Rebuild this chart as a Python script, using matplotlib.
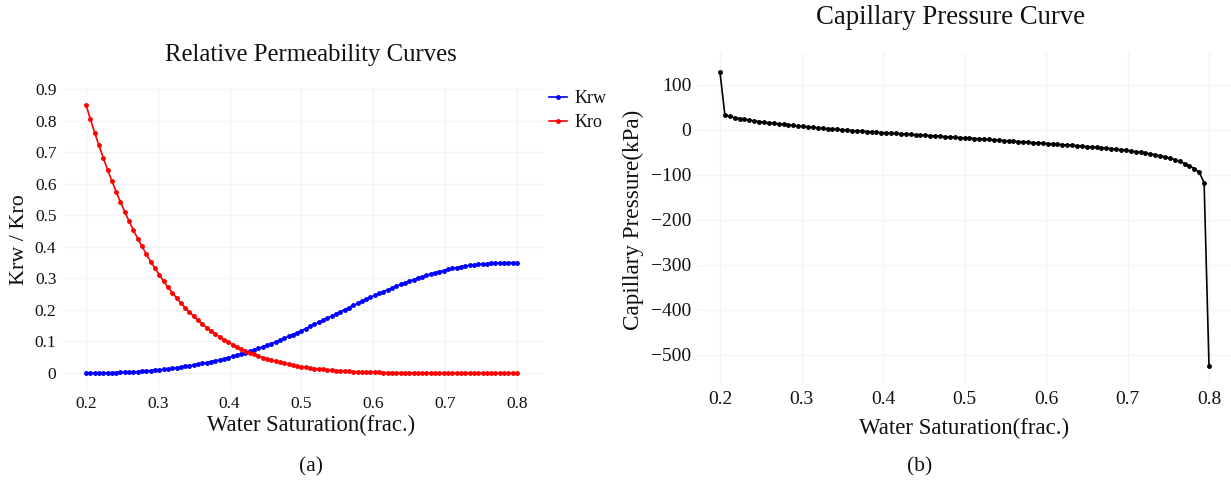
import numpy as np
import matplotlib
matplotlib.use("Agg")
import matplotlib.pyplot as plt

# ---------------- data ----------------
sw = [round(0.2 + 0.006 * i, 3) for i in range(101)]

krw = [0.0000, 0.0000, 0.0001, 0.0002, 0.0004, 0.0007, 0.0010, 0.0014, 0.0018, 0.0023,
       0.0028, 0.0036, 0.0045, 0.0055, 0.0066, 0.0077, 0.0090, 0.0103, 0.0117, 0.0132,
       0.0147, 0.0166, 0.0186, 0.0207, 0.0229, 0.0252, 0.0277, 0.0302, 0.0329, 0.0357,
       0.0385, 0.0418, 0.0452, 0.0487, 0.0523, 0.0560, 0.0601, 0.0643, 0.0686, 0.0731,
       0.0777, 0.0828, 0.0879, 0.0932, 0.0986, 0.1040, 0.1099, 0.1159, 0.1220, 0.1282,
       0.1344, 0.1409, 0.1474, 0.1540, 0.1606, 0.1673, 0.1740, 0.1808, 0.1875, 0.1942,
       0.2009, 0.2075, 0.2141, 0.2206, 0.2271, 0.2335, 0.2397, 0.2459, 0.2520, 0.2580,
       0.2639, 0.2695, 0.2751, 0.2806, 0.2859, 0.2912, 0.2960, 0.3007, 0.3052, 0.3096,
       0.3140, 0.3177, 0.3213, 0.3248, 0.3282, 0.3315, 0.3340, 0.3364, 0.3386, 0.3407,
       0.3427, 0.3441, 0.3454, 0.3465, 0.3475, 0.3483, 0.3489, 0.3494, 0.3497, 0.3499,
       0.3500]

kro = [0.850, 0.805, 0.762, 0.721, 0.682, 0.644, 0.609, 0.574, 0.542, 0.511,
       0.481, 0.453, 0.426, 0.401, 0.376, 0.353, 0.332, 0.311, 0.291, 0.272,
       0.255, 0.238, 0.222, 0.207, 0.193, 0.180, 0.167, 0.155, 0.144, 0.134,
       0.124, 0.115, 0.106, 0.098, 0.090, 0.083, 0.076, 0.070, 0.064, 0.059,
       0.054, 0.049, 0.045, 0.041, 0.037, 0.034, 0.031, 0.028, 0.025, 0.022,
       0.020, 0.018, 0.016, 0.014, 0.0128, 0.0114, 0.0101, 0.0089, 0.0079, 0.0069,
       0.0060, 0.0053, 0.0046, 0.0040, 0.0034, 0.0029, 0.0025, 0.0021, 0.0018, 0.0015,
       0.0013, 0.0011, 0.0009, 0.0007, 0.0006, 0.0005, 0.0004, 0.0003, 0.0003, 0.0002,
       0.0002, 0.0001, 0.0001, 0.0001, 0.0001, 0.0, 0.0, 0.0, 0.0, 0.0,
       0.0, 0.0, 0.0, 0.0, 0.0, 0.0, 0.0, 0.0, 0.0, 0.0,
       0.0]

pc = [128.0, 33.0, 30.0, 27.6, 25.5, 23.6, 21.85, 20.25, 18.75, 17.35,
      16.0, 14.7, 13.45, 12.25, 11.1, 10.0, 8.9, 7.85, 6.85, 5.85,
      4.9, 3.95, 3.05, 2.15, 1.3, 0.45, -0.35, -1.15, -1.9, -2.65,
      -3.4, -4.15, -4.9, -5.6, -6.3, -7.0, -7.7, -8.4, -9.1, -9.8,
      -10.5, -11.2, -11.9, -12.6, -13.3, -14.0, -14.7, -15.4, -16.1, -16.8,
      -17.5, -18.2, -18.9, -19.6, -20.35, -21.1, -21.85, -22.6, -23.35, -24.1,
      -24.9, -25.65, -26.4, -27.15, -27.9, -28.65, -29.4, -30.15, -30.9, -31.7,
      -32.5, -33.3, -34.1, -34.95, -35.8, -36.7, -37.6, -38.5, -39.45, -40.45,
      -41.5, -42.6, -43.8, -45.1, -46.5, -48.0, -49.6, -51.3, -53.1, -55.1,
      -57.3, -59.8, -62.7, -66.1, -70.0, -74.5, -79.6, -85.8, -94.0, -117.0,
      -524.0]

x_ticks = [0.2, 0.3, 0.4, 0.5, 0.6, 0.7, 0.8]
x_tick_labels = ["0.2", "0.3", "0.4", "0.5", "0.6", "0.7", "0.8"]
k_ticks = [0, 0.1, 0.2, 0.3, 0.4, 0.5, 0.6, 0.7, 0.8, 0.9]
k_tick_labels = ["0", "0.1", "0.2", "0.3", "0.4", "0.5", "0.6", "0.7", "0.8", "0.9"]
pc_ticks = [100, 0, -100, -200, -300, -400, -500]
pc_tick_labels = ["100", "0", "\u2212100", "\u2212200", "\u2212300", "\u2212400", "\u2212500"]

# ---------------- figure ----------------
W, H = 1231, 484
plt.rcParams['font.family'] = ['Liberation Serif', 'DejaVu Serif']
fig = plt.figure(figsize=(W / 100, H / 100), dpi=100)
fig.patch.set_facecolor('white')

GRID = '#f1f3f8'
TXT = '#111111'


def ax_at(l, t, r, b):
    return fig.add_axes([l / W, 1 - b / H, (r - l) / W, (b - t) / H])


def fx(x):
    return x / W


def fy(y):
    return 1 - y / H


def style(ax, fs):
    for s in ax.spines.values():
        s.set_visible(False)
    ax.grid(True, color=GRID, linewidth=1)
    ax.set_axisbelow(True)
    ax.tick_params(length=0, labelsize=fs, colors=TXT, pad=4)
    ax.set_facecolor('white')


# Left panel
ax1 = ax_at(62, 88, 544, 390)
ax1.plot(sw, krw, color='#0000ff', lw=1.2, marker='o', ms=2.5, label='Krw')
ax1.plot(sw, kro, color='#ff0000', lw=1.2, marker='o', ms=2.5, label='Kro')
ax1.set_xlim(0.2 - 24 / 718, 0.8 + 27 / 718)
ax1.set_ylim(-(390 - 373) / 315.6, 0.9 + (89 - 88) / 315.6)
ax1.set_xticks(x_ticks)
ax1.set_xticklabels(x_tick_labels)
ax1.set_yticks(k_ticks)
ax1.set_yticklabels(k_tick_labels)
style(ax1, 12.5)
leg = ax1.legend(loc='upper left', bbox_to_anchor=(fx(549), fy(90)),
                 bbox_transform=fig.transFigure, frameon=False, fontsize=13,
                 handlelength=1.0, handletextpad=0.4, labelspacing=0.4,
                 borderaxespad=0, borderpad=0)
for t in leg.get_texts():
    t.set_color(TXT)

# Right panel
ax2 = ax_at(697, 53, 1231, 385)
ax2.plot(sw, pc, color='black', lw=1.2, marker='o', ms=2.5)
ax2.set_xlim(0.2 - 23 / 815, 0.8 + 22 / 815)
ax2.set_ylim(-(385 - 130) / 0.45, (130 - 53) / 0.45)
ax2.set_xticks(x_ticks)
ax2.set_xticklabels(x_tick_labels)
ax2.set_yticks(pc_ticks)
ax2.set_yticklabels(pc_tick_labels)
style(ax2, 14)

# Texts
fig.text(fx(311), fy(55), 'Relative Permeability Curves', ha='center', va='center', fontsize=17.8, color=TXT)
fig.text(fx(311), fy(425), 'Water Saturation(frac.)', ha='center', va='center', fontsize=16.3, color=TXT)
fig.text(fx(20), fy(240), 'Krw / Kro', ha='center', va='center', rotation=90, fontsize=15.8, color=TXT)
fig.text(fx(311), fy(467), '(a)', ha='center', va='center', fontsize=15.5, color=TXT)

fig.text(fx(950), fy(18), 'Capillary Pressure Curve', ha='center', va='center', fontsize=19.3, color=TXT)
fig.text(fx(964), fy(428), 'Water Saturation(frac.)', ha='center', va='center', fontsize=16.5, color=TXT)
fig.text(fx(633), fy(220), 'Capillary Pressure(kPa)', ha='center', va='center', rotation=90, fontsize=16.7, color=TXT)
fig.text(fx(920), fy(467), '(b)', ha='center', va='center', fontsize=15.5, color=TXT)

fig.savefig('out.png', dpi=100, facecolor='white')
